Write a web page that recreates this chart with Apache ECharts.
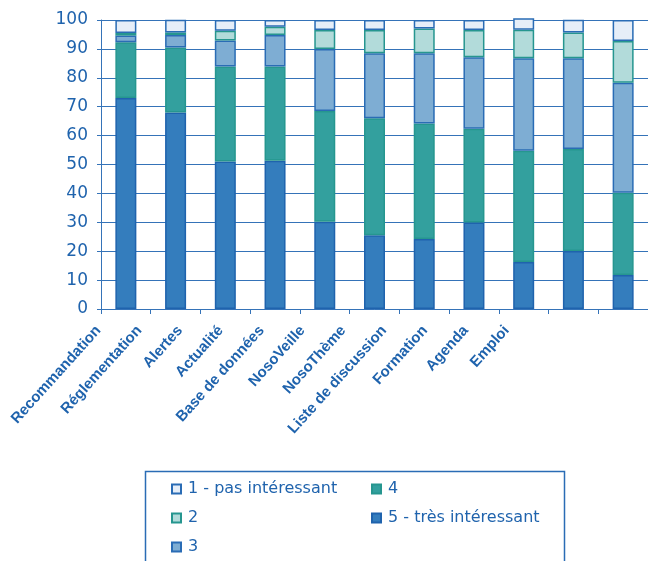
<!DOCTYPE html>
<html><head><meta charset="utf-8">
<script src="https://cdn.jsdelivr.net/npm/echarts@6/dist/echarts.min.js"></script>
<style>html,body{margin:0;padding:0;background:#fff}#c{width:648px;height:561px}</style>
</head><body><div id="c"></div>
<script>
const categories = ['Recommandation','Réglementation','Alertes','Actualité','Base de données','NosoVeille','NosoThème','Liste de discussion','Formation','Agenda','Emploi'];
const seriesNames = ['1 - pas intéressant','2','3','4','5 - très intéressant'];
const s5 = [73, 68, 51, 51.3, 30.2, 25.5, 24.2, 29.9, 16.3, 20.1, 11.8];
const s4 = [19.3, 22.5, 32.9, 32.6, 38.3, 40.5, 40.0, 32.5, 38.5, 35.3, 28.4];
const s3 = [2.3, 4.3, 9.0, 10.9, 21.5, 22.5, 24.3, 24.7, 32.0, 31.4, 38.1];
const s2 = [0.9, 0.9, 3.4, 2.9, 6.5, 8.0, 8.6, 9.4, 9.8, 8.9, 14.4];
const s1 = [4.5, 4.4, 3.7, 2.3, 3.5, 3.5, 2.9, 3.5, 4.0, 4.4, 7.3];
const yTicks = [0,10,20,30,40,50,60,70,80,90,100];

const blue = '#1f63ad';
const grid = '#3573b8';
const fills = ['#e6eef8','#b2dbda','#7eadd3','#33a09e','#347dbd'];
const borders = ['#2a6cb5','#26968f','#2a6cb5','#26968f','#1f63ad'];
const dataByIdx = [s1,s2,s3,s4,s5];

const chart = echarts.init(document.getElementById('c'), null, {renderer:'canvas'});
const order = [4,3,2,1,0];
const series = order.map(i => ({
  name: seriesNames[i], type: 'bar', stack: 'all', data: dataByIdx[i],
  barWidth: 21, clip: false, xAxisIndex: 0, yAxisIndex: 0,
  itemStyle: {color: fills[i], borderColor: borders[i], borderWidth: 1.5},
  emphasis: {disabled: true}
}));

const legendText = {color: blue, fontSize: 16, lineHeight: 16, fontFamily: 'DejaVu Sans', padding: [0,0,0,2]};

chart.setOption({
  animation: false,
  textStyle: {fontFamily: 'DejaVu Sans, sans-serif'},
  grid: [
    {left: 101, top: 20, width: 553, height: 289},
    {left: 78, top: 20, width: 449, height: 289}
  ],
  xAxis: [
    {type: 'category', gridIndex: 0, data: categories,
     axisLine: {lineStyle: {color: grid, width: 1}},
     axisTick: {show: true, interval: 0, length: 5, lineStyle: {color: grid}},
     axisLabel: {show: false},
     splitLine: {show: false}},
    {type: 'category', gridIndex: 1, data: categories,
     axisLine: {show: false}, axisTick: {show: false},
     axisLabel: {show: true, interval: 0, rotate: 48, margin: 19,
       color: blue, fontSize: 15, fontWeight: 'bold', fontFamily: 'Liberation Sans, Arial, sans-serif'}}
  ],
  yAxis: [
    {type: 'value', gridIndex: 0, min: yTicks[0], max: yTicks[yTicks.length-1], interval: 10,
     axisLine: {show: true, lineStyle: {color: grid}},
     axisTick: {show: true, length: 4, lineStyle: {color: grid}},
     axisLabel: {color: blue, fontSize: 17, margin: 13, fontFamily: 'DejaVu Sans'},
     splitLine: {show: true, lineStyle: {color: grid, width: 1}}},
    {type: 'value', gridIndex: 1, min: 0, max: 100, show: false}
  ],
  legend: [
    {orient: 'vertical', left: 171, top: 481, padding: 0, itemWidth: 9, itemHeight: 9, itemGap: 13,
     data: seriesNames.slice(0,3), icon: 'rect', selectedMode: false, textStyle: legendText},
    {orient: 'vertical', left: 371, top: 481, padding: 0, itemWidth: 9, itemHeight: 9, itemGap: 13,
     data: seriesNames.slice(3), icon: 'rect', selectedMode: false, textStyle: legendText}
  ],
  graphic: [
    {type: 'rect', shape: {x: 145.5, y: 471.5, width: 419, height: 110},
     style: {fill: 'none', stroke: '#2a6cb5', lineWidth: 1.5}, silent: true, z: -1}
  ],
  series: series
});
</script></body></html>
